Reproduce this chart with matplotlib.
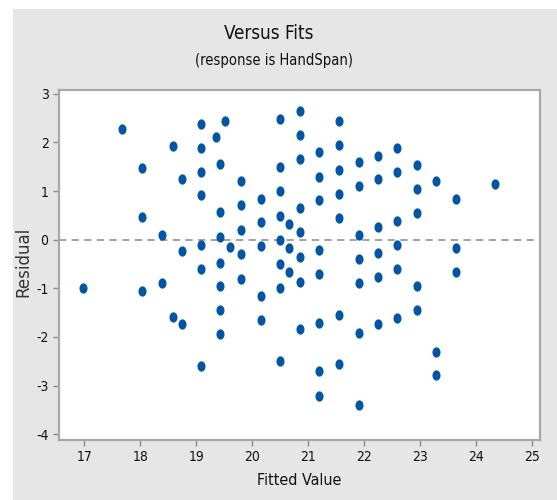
import numpy as np
import matplotlib
matplotlib.use("Agg")
import matplotlib.pyplot as plt
from matplotlib import font_manager
from matplotlib.path import Path
from matplotlib.patches import Rectangle

# prefer a narrow face for the labels
installed = {f.name for f in font_manager.fontManager.ttflist}
narrow = next((n for n in ['Liberation Sans Narrow', 'DejaVu Sans Condensed'] if n in installed),
              'DejaVu Sans')
plt.rcParams['font.family'] = [narrow, 'DejaVu Sans']
if narrow == 'DejaVu Sans':
    plt.rcParams['font.stretch'] = 'condensed'
plt.rcParams['axes.unicode_minus'] = False

# fitted values and residuals, grouped by fitted value
fits = [16.98, 17.68, 18.04, 18.39, 18.58, 18.74, 19.09, 19.36, 19.43, 19.52,
        19.61, 19.80, 20.15, 20.50, 20.66, 20.85, 21.20, 21.55, 21.90, 22.24,
        22.59, 22.94, 23.29, 23.64, 24.34]
residuals = [
    [-0.99],
    [2.28],
    [1.47, 0.46, -1.05],
    [0.10, -0.89],
    [1.93, -1.58],
    [1.24, -0.23, -1.74],
    [2.39, 1.89, 1.40, 0.91, -0.10, -0.60, -2.59],
    [2.12],
    [1.56, 0.56, 0.06, -0.47, -0.96, -1.45, -1.94],
    [2.45],
    [-0.14],
    [1.21, 0.71, 0.19, -0.29, -0.80],
    [0.84, 0.36, -0.13, -1.15, -1.65],
    [2.48, 1.50, 1.01, 0.49, -0.01, -0.49, -0.99, -2.50],
    [0.32, -0.17, -0.66],
    [2.65, 2.15, 1.66, 0.65, 0.16, -0.36, -0.86, -1.84],
    [1.80, 1.30, 0.82, -0.21, -0.70, -1.71, -2.70, -3.22],
    [2.45, 1.95, 1.43, 0.95, 0.45, -1.55, -2.56],
    [1.60, 1.11, 0.10, -0.39, -0.89, -1.91, -3.41],
    [1.73, 1.24, 0.26, -0.27, -0.76, -1.74],
    [1.89, 1.40, 0.38, -0.10, -0.60, -1.61],
    [1.53, 1.04, 0.55, -0.96, -1.45],
    [1.21, -2.30, -2.79],
    [0.84, -0.17, -0.66],
    [1.14],
]
x_ticks = [17, 18, 19, 20, 21, 22, 23, 24, 25]
y_ticks = [-4, -3, -2, -1, 0, 1, 2, 3]

x = np.concatenate([[f] * len(r) for f, r in zip(fits, residuals)])
y = np.concatenate(residuals)

# slightly tall oval marker
t = np.linspace(0, 2 * np.pi, 40)
oval = Path(np.column_stack([0.78 * np.cos(t), np.sin(t)]), closed=True)

fig = plt.figure(figsize=(5.57, 5.0), dpi=100, facecolor='white')
fig.patches.append(Rectangle((13 / 557, 0), 1, 1 - 9 / 500, transform=fig.transFigure,
                             facecolor='#e6e6e6', edgecolor='none', zorder=-10))

ax = fig.add_axes([59 / 557, 0.12, 481 / 557, 0.70])
ax.set_facecolor('white')
ax.scatter(x, y, marker=oval, s=55, color='#0055a5', linewidths=0, zorder=3)
ax.axhline(0, color='#9a9a9a', lw=1.3, ls=(0, (4, 3)), zorder=2)

ax.set_xlim(16.55, 25.14)
ax.set_ylim(-4.12, 3.08)
ax.set_xticks(x_ticks)
ax.set_yticks(y_ticks)
for s in ax.spines.values():
    s.set_color('#a8a8a8')
    s.set_linewidth(1.6)
ax.tick_params(direction='out', length=4, width=1, color='#8a8a8a',
               labelsize=10, labelcolor='#111111')

fig.text(0.482, 0.933, 'Versus Fits', ha='center', va='center', fontsize=13.5, color='#111111')
fig.text(0.492, 0.878, '(response is HandSpan)', ha='center', va='center', fontsize=10.5,
         color='#111111')
ax.set_xlabel('Fitted Value', fontsize=11.5, color='#111111', labelpad=6)
ax.set_ylabel('Residual', fontsize=12, color='#333333', family='DejaVu Sans',
              stretch='normal')
ax.yaxis.set_label_coords(-0.056, 0.51)

fig.savefig('out.png', dpi=100, facecolor=fig.get_facecolor())
